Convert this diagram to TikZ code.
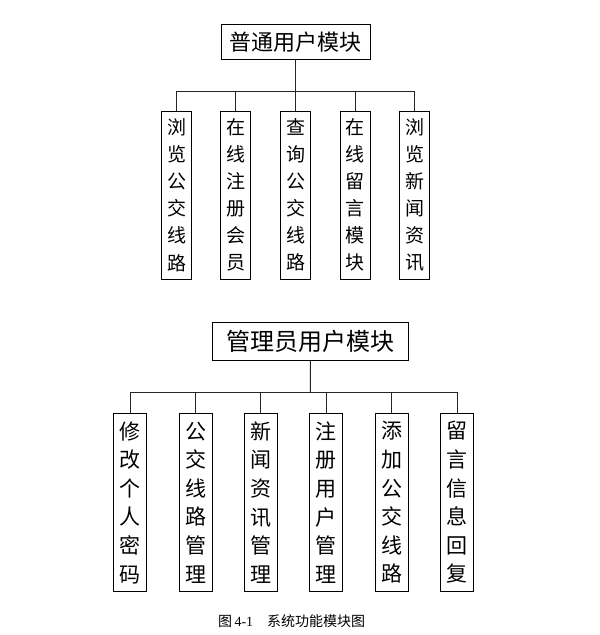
\documentclass[tikz,border=0pt]{standalone}
\usepackage{fontspec}
\setmainfont{Liberation Serif}
\newfontfamily\cjk{Noto Sans CJK SC}
\begin{document}
\begin{tikzpicture}[x=1pt,y=-1pt,
  box/.style={draw=black,line width=1pt,inner sep=0pt,align=center},
  titlebox/.style={box,font=\cjk\fontsize{22}{24}\selectfont},
  topchild/.style={box,minimum width=30pt,minimum height=168pt,font=\cjk\fontsize{19}{27.1}\selectfont},
  botchild/.style={box,minimum width=33pt,minimum height=178pt,font=\cjk\fontsize{21}{28.6}\selectfont},
  conn/.style={draw=black!85,line width=1pt}]
\useasboundingbox (0,0) rectangle (600,635);
% top module
\node[titlebox,minimum width=149pt,minimum height=35pt] (top) at (295.5,41.8) {普通用户模块};
\coordinate (bt) at (295.5,91.7);
\node[topchild] (c1) at (176.5,195) {浏\\览\\公\\交\\线\\路};
\node[topchild] (c2) at (235.7,195) {在\\线\\注\\册\\会\\员};
\node[topchild] (c3) at (295.5,195) {查\\询\\公\\交\\线\\路};
\node[topchild] (c4) at (355.2,195) {在\\线\\留\\言\\模\\块};
\node[topchild] (c5) at (414.7,195) {浏\\览\\新\\闻\\资\\讯};
\draw[conn] (top.south) -- (bt);
\draw[conn] (c1.north) |- (bt) -| (c5.north);
\foreach \n in {c2,c3,c4} \draw[conn] (\n.north) -- (\n.north |- bt);
% admin module
\node[titlebox,font=\cjk\fontsize{24}{26}\selectfont,minimum width=196pt,minimum height=37.7pt] (adm) at (310.3,341.2) {管理员用户模块};
\coordinate (bb) at (310.5,392.7);
\node[botchild] (d1) at (130.3,502.5) {修\\改\\个\\人\\密\\码};
\node[botchild] (d2) at (195.8,502.5) {公\\交\\线\\路\\管\\理};
\node[botchild] (d3) at (260.5,502.5) {新\\闻\\资\\讯\\管\\理};
\node[botchild] (d4) at (326.3,502.5) {注\\册\\用\\户\\管\\理};
\node[botchild] (d5) at (391.7,502.5) {添\\加\\公\\交\\线\\路};
\node[botchild] (d6) at (457,502.5) {留\\言\\信\\息\\回\\复};
\draw[conn] (adm.south) -- (bb);
\draw[conn] (d1.north) |- (bb) -| (d6.north);
\foreach \n in {d2,d3,d4,d5} \draw[conn] (\n.north) -- (\n.north |- bb);
% caption
\node[inner sep=0pt,anchor=west] (cap) at (218,621) {\fontsize{14}{16}\selectfont{\cjk 图}\,4-1\hspace{14pt}{\cjk 系统功能模块图}};
\end{tikzpicture}
\end{document}
